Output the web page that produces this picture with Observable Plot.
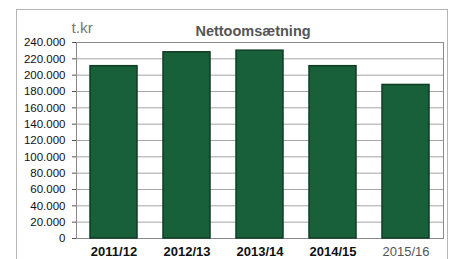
<!DOCTYPE html>
<html>
<head>
<meta charset="utf-8">
<script src="https://cdn.jsdelivr.net/npm/d3@7"></script>
<script src="https://cdn.jsdelivr.net/npm/@observablehq/plot@0.6"></script>
<style>
  html, body { margin: 0; padding: 0; background: #fff; }
  #wrap { position: relative; width: 454px; height: 259px; overflow: hidden; }
  #border { position: absolute; left: 16px; top: 9px; width: 432px; height: 260px; border: 1px solid #b5b5b5; box-sizing: border-box; pointer-events: none; }
</style>
</head>
<body>
<div id="wrap"><div id="border"></div></div>
<script>
const years = ["2011/12", "2012/13", "2013/14", "2014/15", "2015/16"];
const revenue = [211000, 228000, 230000, 211000, 188000];
const yTicks = [0, 20000, 40000, 60000, 80000, 100000, 120000, 140000, 160000, 180000, 200000, 220000, 240000];
const title = "Nettoomsætning";
const unit = "t.kr";

const data = years.map((y, i) => ({year: y, value: revenue[i]}));
const fmt = d => d3.format(",")(d).replace(/,/g, ".");
const font = "Liberation Sans, Arial, sans-serif";

const chart = Plot.plot({
  width: 454,
  height: 259,
  marginLeft: 76,
  marginRight: 11,
  marginTop: 42,
  marginBottom: 21,
  style: {fontFamily: font, background: "transparent"},
  x: {domain: years, paddingInner: 0.36, paddingOuter: 0.18},
  y: {domain: [0, 240000]},
  marks: [
    Plot.gridY(yTicks.filter(d => d > 0 && d < 240000), {stroke: "#a5a5a5", strokeOpacity: 1, strokeWidth: 1}),
    Plot.frame({stroke: "#8a8a8a", strokeWidth: 1}),
    Plot.barY(data, {x: "year", y: "value", fill: "#18603a", stroke: "#0e3c22", strokeWidth: 1.5}),
    Plot.axisY(yTicks, {tickFormat: fmt, tickSize: 4, tickPadding: 7, fontSize: 11.5, fill: "#111", stroke: "#555", label: null}),
    Plot.axisX(years.slice(0, 4), {tickSize: 0, tickPadding: 8, fontSize: 13, fontWeight: "bold", fill: "#111", label: null}),
    Plot.axisX(years.slice(4), {tickSize: 0, tickPadding: 8, fontSize: 13, fill: "#555", label: null}),
    Plot.text([title], {frameAnchor: "top", dx: -7, dy: -17, fontSize: 14.5, fontWeight: "bold", fill: "#555", text: d => d}),
    Plot.text([unit], {frameAnchor: "top-left", dx: -5, dy: -21, fontSize: 15.5, fill: "#777", textAnchor: "start", text: d => d})
  ]
});
document.getElementById("wrap").prepend(chart);
</script>
</body>
</html>
